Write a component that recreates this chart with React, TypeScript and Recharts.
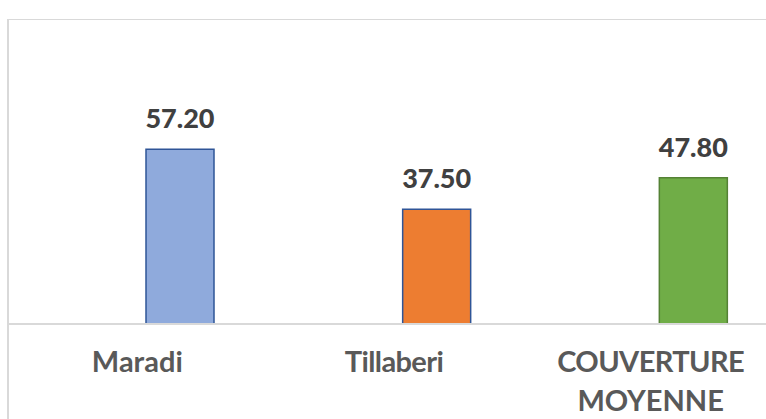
import React from "react";
import { BarChart, Bar, XAxis, YAxis, Cell, LabelList } from "recharts";

const categories = ["Maradi", "Tillaberi", "COUVERTURE MOYENNE"];
const couverture = [57.2, 37.5, 47.8];
const serieVide: (number | null)[] = [null, null, null];
const fillColors = ["#8faadc", "#ed7d31", "#70ad47"];
const strokeColors = ["#2f5597", "#2f5597", "#548235"];

const data = categories.map((c, i) => ({
  name: c,
  vide: serieVide[i],
  valeur: couverture[i],
}));

const FONT = "Lato, 'Open Sans', sans-serif";

const CategoryTick = (props: any) => {
  const { x, y, payload } = props;
  const words: string[] = String(payload.value).split(" ");
  const lines = words.length > 1 ? words : [payload.value];
  return (
    <text
      x={x}
      y={y + 40}
      textAnchor="middle"
      fill="#595959"
      fontFamily={FONT}
      fontWeight="bold"
      fontSize={29}
    >
      {lines.map((l, i) => (
        <tspan
          key={i}
          x={x}
          dy={i === 0 ? 0 : 39}
          letterSpacing={l.length > 8 ? -0.6 : 0}
        >
          {l}
        </tspan>
      ))}
    </text>
  );
};

export default function App() {
  return (
    <div
      style={{
        position: "absolute",
        left: 0,
        top: 0,
        width: 766,
        height: 419,
        overflow: "hidden",
        background: "#ffffff",
      }}
    >
      <div
        style={{
          position: "absolute",
          left: 7,
          top: 19,
          width: 820,
          height: 500,
          borderLeft: "2px solid #d9d9d9",
          borderTop: "1.5px solid #d9d9d9",
        }}
      />
      <div style={{ position: "absolute", left: 0, top: 0 }}>
        <BarChart
          width={800}
          height={419}
          data={data}
          margin={{ top: 110, right: 21, bottom: 0, left: 7 }}
          barSize={68}
          barGap={18}
        >
          <XAxis
            dataKey="name"
            axisLine={{ stroke: "#d9d9d9", strokeWidth: 2 }}
            tickLine={false}
            padding={{ left: 2, right: 0 }}
            height={95}
            interval={0}
            tick={<CategoryTick />}
          />
          <YAxis hide domain={[0, 70]} />
          <Bar dataKey="vide" isAnimationActive={false} />
          <Bar dataKey="valeur" isAnimationActive={false} strokeWidth={1.5}>
            {data.map((d, i) => (
              <Cell key={i} fill={fillColors[i]} stroke={strokeColors[i]} />
            ))}
            <LabelList
              dataKey="valeur"
              position="top"
              offset={21}
              formatter={(v: any) => Number(v).toFixed(2)}
              fill="#404040"
              fontFamily={FONT}
              fontWeight={900}
              fontSize={27}
            />
          </Bar>
        </BarChart>
      </div>
    </div>
  );
}
